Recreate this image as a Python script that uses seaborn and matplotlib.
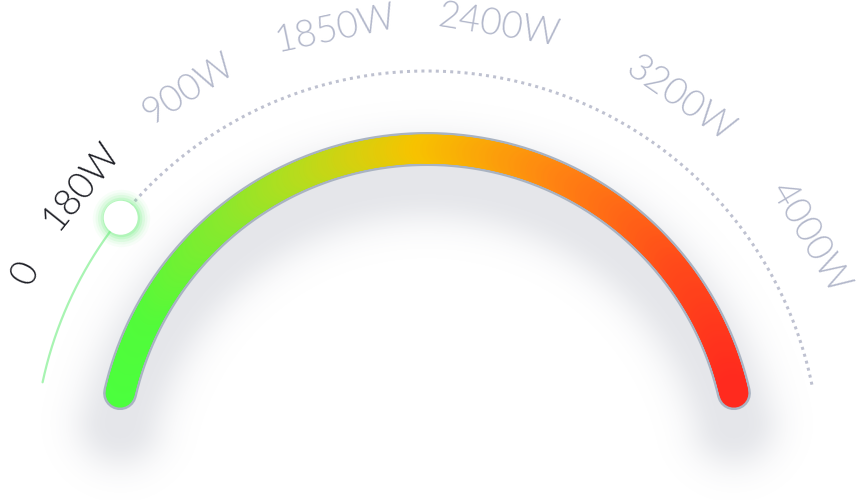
import numpy as np
import pandas as pd
import matplotlib.pyplot as plt
import seaborn as sns
from matplotlib import font_manager
from matplotlib.collections import LineCollection
from matplotlib.colors import LinearSegmentedColormap

# gauge data
tick_labels = ['0', '180W', '900W', '1850W', '2400W', '3200W', '4000W']
tick_values = [0, 180, 900, 1850, 2400, 3200, 4000]
current_value = 180

# layout (pixel space, angles in degrees)
tick_angles = [154.6, 141.2, 122.4, 101.9, 80.6, 55.2, 30.6]
cx, cy = 427, 464
band_r, band_start, band_end = 315, 167.0, 13.0
track_r, track_start, track_end = 393, 168.0, 11.5
label_r = 444

sns.set_theme(style='white')
plt.rcParams['font.family'] = ['Lato', 'DejaVu Sans']

# pick an upright Lato face if there is one
label_font = None
for f in sorted(font_manager.findSystemFonts()):
    name = f.split('/')[-1].lower()
    if name in ('lato-regular.ttf', 'lato-light.ttf'):
        label_font = font_manager.FontProperties(fname=f, size=26.5)
        if 'light' in name:
            break
if label_font is None:
    label_font = font_manager.FontProperties(family='Lato', style='normal',
                                             weight='normal', size=26.5)


def arc(r, a0, a1, n=400, dy=0):
    a = np.radians(np.linspace(a0, a1, n))
    return cx + r * np.cos(a), cy + dy - r * np.sin(a)


def value_angle(v):
    return np.interp(v, tick_values, tick_angles)


fig = plt.figure(figsize=(8.63, 5), dpi=100)
ax = fig.add_axes([0, 0, 1, 1])
ax.set_xlim(0, 863)
ax.set_ylim(500, 0)
ax.axis('off')

# soft drop shadow under the band
gx, gy = np.meshgrid(np.arange(863) + 0.5, np.arange(500) + 0.5)
sdy = 30
rx, ry = gx - cx, (cy + sdy) - gy
rr = np.hypot(rx, ry)
th = np.degrees(np.arctan2(ry, rx))
inside = (th >= band_end) & (th <= band_start)
d_ring = np.abs(rr - band_r)
ends = []
for a in (band_start, band_end):
    ex = cx + band_r * np.cos(np.radians(a))
    ey = cy + sdy - band_r * np.sin(np.radians(a))
    ends.append(np.hypot(gx - ex, gy - ey))
d = np.where(inside, d_ring, np.minimum(*ends))
d = np.clip(d - 14, 0, None)
alpha = 0.22 * np.exp(-0.5 * (d / 23) ** 2)
shadow = np.zeros((500, 863, 4))
shadow[..., 0] = 0.55
shadow[..., 1] = 0.57
shadow[..., 2] = 0.64
shadow[..., 3] = alpha
ax.imshow(shadow, extent=(0, 863, 500, 0), zorder=0, interpolation='bilinear')

# coloured band with border
bx, by = arc(band_r, band_start, band_end)
ax.plot(bx, by, color='#A9B3C2', lw=34 * 0.72, solid_capstyle='round', zorder=2)
cmap = LinearSegmentedColormap.from_list('gauge', [
    (0.0, '#4BFF3D'), (0.1, '#52FB3A'), (0.26, '#8CE82C'), (0.36, '#B8DC1C'),
    (0.5, '#F7C300'), (0.67, '#FF8412'), (0.85, '#FF4A1A'), (1.0, '#FF2A1E')])
pts = np.column_stack([bx, by])
segs = np.stack([pts[:-1], pts[1:]], axis=1)
frac = np.linspace(0, 1, len(segs))
lc = LineCollection(segs, colors=cmap(frac), linewidths=29 * 0.72,
                    capstyle='round', zorder=3)
ax.add_collection(lc)

# progress line and remaining dotted track
va = value_angle(current_value)
px, py = arc(track_r, track_start, va, n=200)
prog = pd.DataFrame({'x': px, 'y': py})
sns.lineplot(data=prog, x='x', y='y', sort=False, color='#A8F4B2', lw=1.6,
             ax=ax, zorder=3)
tx, ty = arc(track_r, va, track_end, n=600)
track = pd.DataFrame({'x': tx, 'y': ty})
sns.lineplot(data=track, x='x', y='y', sort=False, color='#BEC1D0', lw=3 * 0.72,
             dashes=False, ax=ax, zorder=3)
ax.lines[-1].set_dashes((1, 1.4))
ax.lines[-1].set_dash_capstyle('butt')

# value marker with green glow
mx, my = arc(track_r, va, va, n=1)
for s, a in [(1700, 0.05), (1400, 0.08), (1150, 0.12), (900, 0.18), (720, 0.25)]:
    ax.scatter(mx, my, s=s, color='#6CF07C', alpha=a, lw=0, zorder=4)
sns.scatterplot(x=mx, y=my, s=600, color='white', edgecolor='none', ax=ax,
                zorder=5)

# tick labels
for lab, v, a in zip(tick_labels, tick_values, tick_angles):
    lx = cx + label_r * np.cos(np.radians(a))
    ly = cy - label_r * np.sin(np.radians(a))
    col = '#1E1F26' if v <= current_value else '#B3B8CB'
    ax.text(lx, ly, lab, rotation=a - 90, rotation_mode='anchor',
            ha='center', va='center', fontproperties=label_font,
            color=col, zorder=6)

fig.savefig('out.png', dpi=100)
